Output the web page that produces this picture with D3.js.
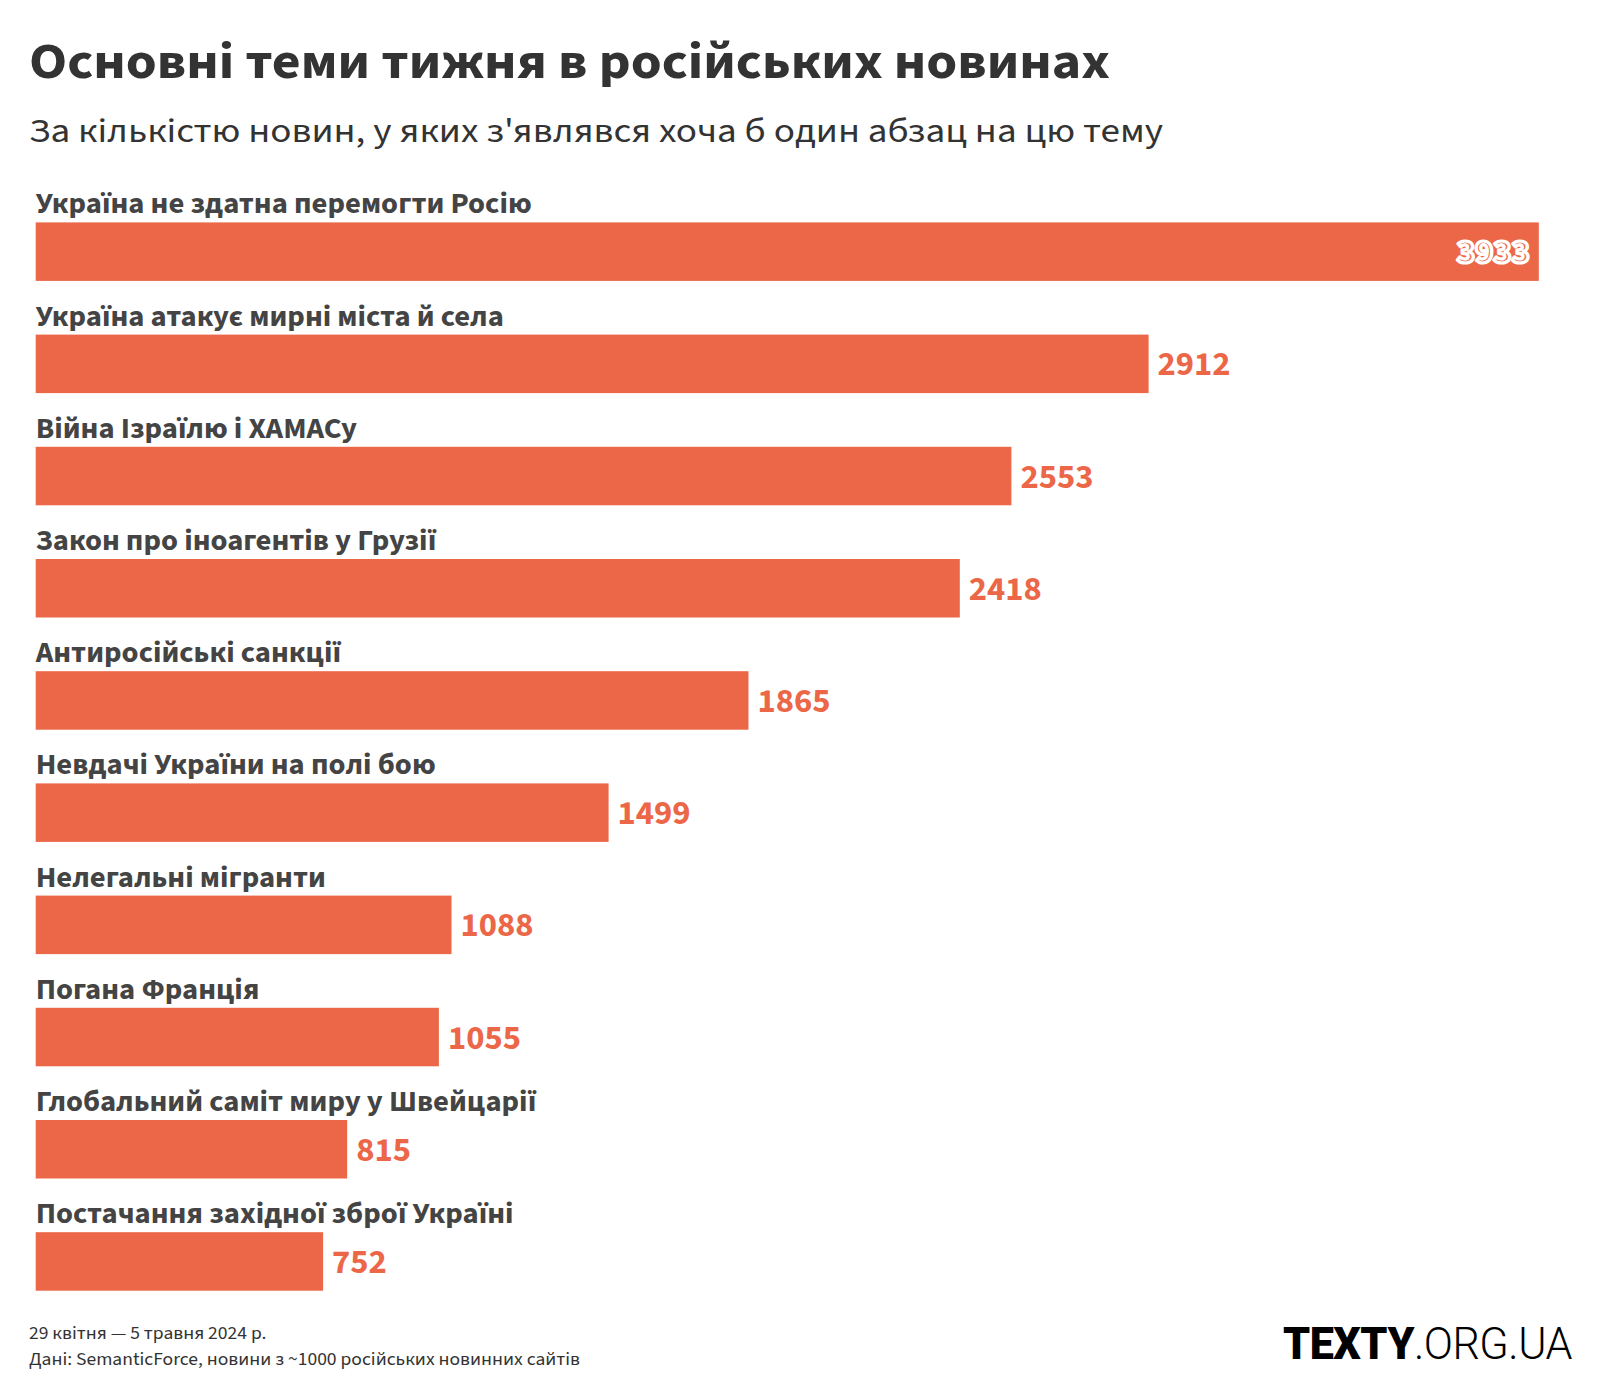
<!DOCTYPE html>
<html>
<head>
<meta charset="utf-8">
<script src="https://cdn.jsdelivr.net/npm/d3@7"></script>
<style>
  html, body { margin: 0; padding: 0; background: #fff; }
  svg { display: block; }
  text { font-family: "Source Sans 3", "Source Sans Pro", "Noto Sans", sans-serif; }
</style>
</head>
<body>
<svg id="chart" width="1600" height="1400"></svg>
<script>
// ---- data ----
const categories = [
  "Україна не здатна перемогти Росію",
  "Україна атакує мирні міста й села",
  "Війна Ізраїлю і ХАМАСу",
  "Закон про іноагентів у Грузії",
  "Антиросійські санкції",
  "Невдачі України на полі бою",
  "Нелегальні мігранти",
  "Погана Франція",
  "Глобальний саміт миру у Швейцарії",
  "Постачання західної зброї Україні"
];
const values = [3933, 2912, 2553, 2418, 1865, 1499, 1088, 1055, 815, 752];
const titleText = "Основні теми тижня в російських новинах";
const subtitleText = "За кількістю новин, у яких з'являвся хоча б один абзац на цю тему";
const footerLines = ["29 квітня — 5 травня 2024 р.", "Дані: SemanticForce, новини з ~1000 російських новинних сайтів"];

// ---- layout ----
const W = 1600, H = 1400;
const barColor = "#ec6748";
const svg = d3.select("#chart");

const x = d3.scaleLinear().domain([0, d3.max(values)]).range([35.7, 1538.8]);
const y = d3.scaleBand().domain(categories).range([222.4, 1290.7]).paddingInner(0.4786).paddingOuter(0);

// helper: factor so that a reference string of a style hits a target width
function widthFactor(style, refText, targetWidth) {
  const t = svg.append("text").text(refText).call(style);
  const w = t.node().getComputedTextLength();
  t.remove();
  return targetWidth / w;
}
function fitText(sel, k) {
  sel.each(function() {
    const w = this.getComputedTextLength();
    if (Math.abs(k - 1) > 0.002) d3.select(this).attr("textLength", w * k).attr("lengthAdjust", "spacingAndGlyphs");
  });
}

const titleStyle = s => s.attr("font-size", 50).attr("font-weight", 700).attr("fill", "#333");
const subStyle = s => s.attr("font-size", 33).attr("font-weight", 400).attr("fill", "#333");
const labelStyle = s => s.attr("font-size", 29).attr("font-weight", 700).attr("fill", "#444");
const valueStyle = s => s.attr("font-size", 33).attr("font-weight", 700);
const footStyle = s => s.attr("font-size", 18).attr("font-weight", 400).attr("fill", "#333");

const kTitle = widthFactor(titleStyle, titleText, 1081);
const kSub = widthFactor(subStyle, subtitleText, 1134);
const kLabel = widthFactor(labelStyle, categories[0], 496);
const kValue = widthFactor(valueStyle, "2912", 73);
const kFoot = widthFactor(footStyle, footerLines[1], 551);

// title & subtitle
svg.append("text").attr("x", 29).attr("y", 78).text(titleText).call(titleStyle).call(fitText, kTitle);
svg.append("text").attr("x", 29).attr("y", 142).text(subtitleText).call(subStyle).call(fitText, kSub);

// bars
const g = svg.append("g");
g.selectAll("rect.bar").data(categories).join("rect")
  .attr("class", "bar")
  .attr("x", x(0))
  .attr("y", d => y(d))
  .attr("width", (d, i) => x(values[i]) - x(0))
  .attr("height", y.bandwidth())
  .attr("fill", barColor);

// category labels
g.selectAll("text.cat").data(categories).join("text")
  .attr("class", "cat")
  .attr("x", x(0))
  .attr("y", d => y(d) - 9)
  .text(d => d)
  .call(labelStyle)
  .call(fitText, kLabel);

// value labels
g.selectAll("text.val").data(categories).join("text")
  .attr("class", "val")
  .text((d, i) => values[i])
  .call(valueStyle)
  .attr("y", d => y(d) + y.bandwidth() / 2 + 11.5)
  .call(fitText, kValue)
  .each(function(d, i) {
    const sel = d3.select(this);
    const w = this.getComputedTextLength() * kValue;
    const end = x(values[i]);
    if (end + 9 + w > W - 25) {
      sel.attr("x", end - 9).attr("text-anchor", "end")
        .attr("fill", barColor).attr("stroke", "#fff").attr("stroke-width", 3.2)
        .attr("stroke-linejoin", "round");
    } else {
      sel.attr("x", end + 9).attr("fill", barColor);
    }
  });

// footer
svg.selectAll("text.foot").data(footerLines).join("text")
  .attr("class", "foot")
  .attr("x", 29)
  .attr("y", (d, i) => 1339 + i * 26)
  .text(d => d)
  .call(footStyle)
  .call(fitText, kFoot);

// logo
const logo = svg.append("text")
  .attr("x", 1572).attr("y", 1359)
  .attr("text-anchor", "end")
  .attr("font-size", 44)
  .attr("fill", "#000")
  .style("font-family", "Roboto, Inter, sans-serif")
  .attr("letter-spacing", -0.5);
logo.append("tspan").attr("font-weight", 900).text("TEXTY");
logo.append("tspan").attr("font-weight", 300).text(".ORG.UA");
const lw = logo.node().getComputedTextLength();
logo.attr("textLength", 289).attr("lengthAdjust", "spacingAndGlyphs");
</script>
</body>
</html>
